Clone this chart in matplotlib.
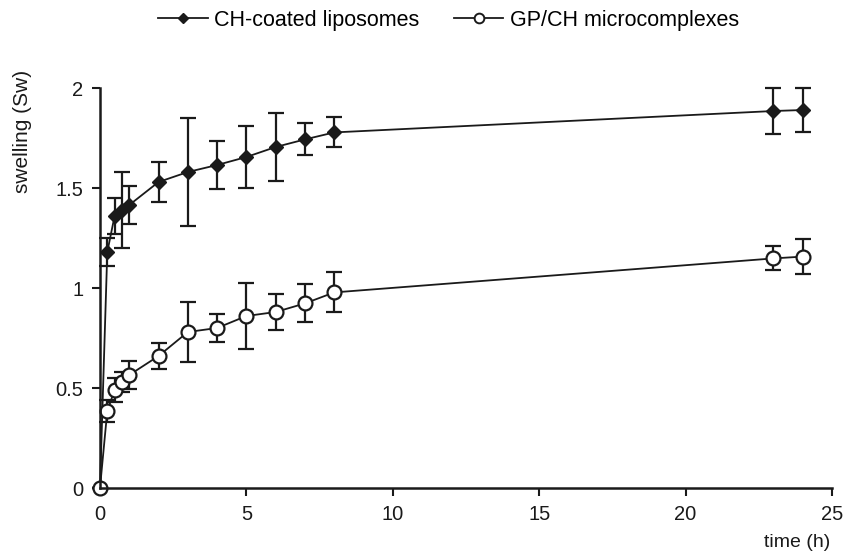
"""
Swelling (Sw) versus time for CH-coated liposomes and GP/CH microcomplexes.
"""

import matplotlib
matplotlib.use("Agg")
import matplotlib.pyplot as plt
from matplotlib.lines import Line2D

plt.rcParams["font.family"] = ["Liberation Sans", "DejaVu Sans"]

# ---------------------------------------------------------------------------
# Data
# ---------------------------------------------------------------------------
time_h = [0, 0.25, 0.5, 0.75, 1, 2, 3, 4, 5, 6, 7, 8, 23, 24]

ch_lipo = [0, 1.18, 1.36, 1.39, 1.415, 1.53, 1.58, 1.615, 1.655, 1.705, 1.743, 1.778, 1.885, 1.89]
ch_lipo_err = [0, 0.07, 0.09, 0.19, 0.095, 0.10, 0.27, 0.12, 0.155, 0.17, 0.08, 0.075, 0.115, 0.11]

gp_ch = [0, 0.385, 0.49, 0.53, 0.565, 0.66, 0.78, 0.80, 0.86, 0.88, 0.923, 0.978, 1.148, 1.157]
gp_ch_err = [0, 0.055, 0.06, 0.05, 0.07, 0.065, 0.15, 0.07, 0.165, 0.09, 0.095, 0.10, 0.06, 0.087]

labels = ["CH-coated liposomes", "GP/CH microcomplexes"]

# ---------------------------------------------------------------------------
# Plot
# ---------------------------------------------------------------------------
ink = "#1a1a1a"
fig = plt.figure(figsize=(8.45, 5.56), dpi=100)
ax = fig.add_axes([0.1183, 0.1223, 0.8663, 0.7194])

err_kw = dict(ecolor=ink, elinewidth=1.6, capsize=5.5, capthick=1.6)

ax.errorbar(time_h, ch_lipo, yerr=ch_lipo_err, fmt="-", color=ink, lw=1.3,
            marker="D", ms=7.5, mfc=ink, mec=ink, zorder=3, **err_kw)
ax.errorbar(time_h, gp_ch, yerr=gp_ch_err, fmt="-", color=ink, lw=1.3,
            marker="o", ms=10, mfc="white", mec=ink, mew=1.6, zorder=4, **err_kw)

ax.set_xlim(0, 25)
ax.set_ylim(0, 2)
ax.set_xticks([0, 5, 10, 15, 20, 25])
ax.set_yticks([0, 0.5, 1, 1.5, 2])
ax.set_yticklabels(["0", "0.5", "1", "1.5", "2"])

for side in ("top", "right"):
    ax.spines[side].set_visible(False)
for side in ("left", "bottom"):
    ax.spines[side].set_linewidth(1.8)
    ax.spines[side].set_color(ink)
    ax.spines[side].set_zorder(5)

ax.tick_params(direction="out", length=6, width=1.5, labelsize=14.5,
               colors=ink, pad=6)

ax.set_ylabel("swelling (Sw)", fontsize=15, color=ink)
ax.yaxis.set_label_coords(-0.093, 0.8925)
ax.set_xlabel("time (h)", fontsize=14, color=ink, ha="right")
ax.xaxis.set_label_coords(0.998, -0.115)

for line in ax.get_lines():
    line.set_clip_on(False)
for coll in ax.collections:
    coll.set_clip_on(False)

# legend proxies without error bars
h_ch = Line2D([], [], color=ink, lw=1.3, marker="D", ms=5, mfc=ink, mec=ink)
h_gp = Line2D([], [], color=ink, lw=1.3, marker="o", ms=7, mfc="white", mec=ink, mew=1.4)
fig.legend([h_ch, h_gp], labels, loc="center", bbox_to_anchor=(0.531, 0.964), ncol=2,
           frameon=False, fontsize=15.5, handlelength=2.3,
           handletextpad=0.3, columnspacing=1.6)

plt.savefig("out.png", dpi=100)
print("Saved out.png")
